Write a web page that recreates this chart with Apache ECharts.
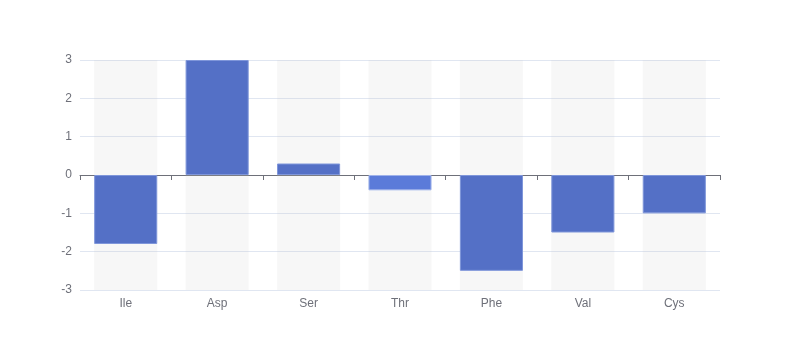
<!DOCTYPE html>
<html>
<head>
<meta charset="utf-8">
<script src="https://cdn.jsdelivr.net/npm/echarts@6/dist/echarts.min.js"></script>
<style>html,body{margin:0;padding:0;background:#fff}#c{width:800px;height:360px}</style>
</head>
<body>
<div id="c"></div>
<script>
var categories = ['Ile', 'Asp', 'Ser', 'Thr', 'Phe', 'Val', 'Cys'];
var values = [-1.8, 3, 0.3, -0.4, -2.5, -1.5, -1.0];
var yTicks = { min: -3, max: 3, interval: 1 };

var chart = echarts.init(document.getElementById('c'), null, { renderer: 'canvas' });
var data = values.map(function (v, i) {
  if (categories[i] === 'Thr') {
    return { value: v, itemStyle: { color: '#5b7bd9', borderColor: '#9fb2ea' } };
  }
  return v;
});
chart.setOption({
  animation: false,
  grid: { left: 80, right: 80, top: 60, bottom: 70 },
  xAxis: {
    type: 'category',
    data: categories,
    axisLine: { show: true, onZero: true, lineStyle: { color: '#6E7079' } },
    axisTick: { show: true, length: 5, alignWithLabel: false, lineStyle: { color: '#6E7079' } },
    axisLabel: { color: '#6E7079', fontSize: 12, margin: 8 },
    position: 'bottom'
  },
  yAxis: {
    type: 'value',
    min: yTicks.min, max: yTicks.max, interval: yTicks.interval,
    axisLabel: { color: '#6E7079', fontSize: 12 },
    splitLine: { lineStyle: { color: '#E0E6F1' } }
  },
  series: [{
    type: 'bar',
    data: data,
    barCategoryGap: '31%',
    showBackground: true,
    backgroundStyle: { color: 'rgba(200,200,200,0.15)' },
    itemStyle: { color: '#5470c6', borderColor: '#7f96da', borderWidth: 1 }
  }]
});
</script>
</body>
</html>
